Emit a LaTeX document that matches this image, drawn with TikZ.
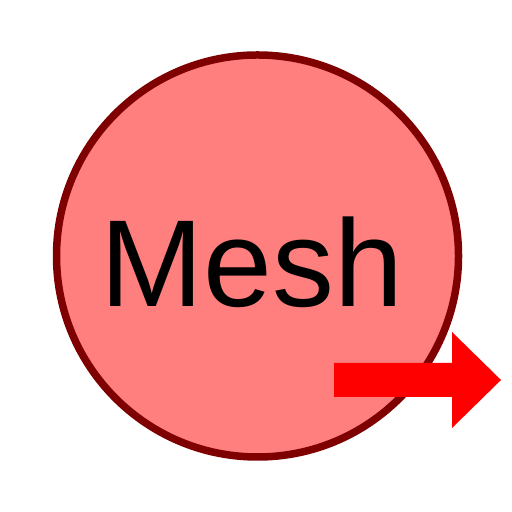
\documentclass[tikz,border=0pt]{standalone}
\usepackage{fontspec}
\setmainfont{Liberation Sans}
\usepackage{xcolor}
\usetikzlibrary{positioning}
\definecolor{meshfill}{HTML}{FF7F7F}
\definecolor{meshdraw}{HTML}{7F0000}
\tikzstyle{meshnode} = [circle, minimum size=40.2mm, inner sep=0pt, draw=meshdraw,
                        fill=meshfill, line width=0.75mm]
\tikzstyle{meshtext} = [font=\fontsize{35.2}{40}\selectfont, inner sep=0pt, anchor=base]
\tikzstyle{outarrow} = [fill=red, draw=none]

\begin{document}
\begin{tikzpicture}
    \useasboundingbox (0,0) rectangle (5.12,5.12);
    \node (mesh) [meshnode] at (2.575,2.56) {};
    \node (label) [meshtext] at (2.52,2.05) {Mesh};
    \fill[outarrow] (3.34,1.49) -- (4.52,1.49) -- (4.52,1.80) -- (5.01,1.32)
        -- (4.52,0.84) -- (4.52,1.15) -- (3.34,1.15) -- cycle;
\end{tikzpicture}
\end{document}
